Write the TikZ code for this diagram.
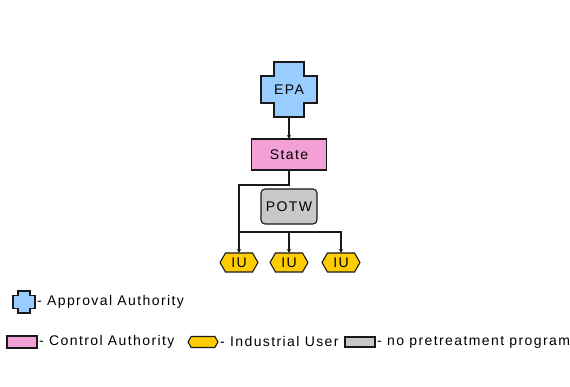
\documentclass[tikz,border=0pt]{standalone}
\usepackage{fontspec}
\setmainfont{Liberation Sans}[LetterSpace=10]
\usepackage{xcolor}
\usepackage{tikz}
\usetikzlibrary{shapes.symbols, arrows.meta, positioning, calc, backgrounds}

\definecolor{epablue}{HTML}{99CCFF}
\definecolor{statepink}{HTML}{F2A0D6}
\definecolor{iugold}{HTML}{FFCC00}
\definecolor{potwgray}{HTML}{C8C8C8}

% plus-shaped outline behind a node: node, half bar width, half bar height
\newcommand{\plusfill}[3]{%
  \begin{pgfonlayer}{background}
    \filldraw[fill=epablue, draw=black!90, line width=1.1pt]
      ($(#1.north)+(-#2,0)$) -- ($(#1.north)+(#2,0)$) |- ($(#1.east)+(0,#3)$)
      -- ($(#1.east)+(0,-#3)$) -| ($(#1.south)+(#2,0)$)
      -- ($(#1.south)+(-#2,0)$) |- ($(#1.west)+(0,-#3)$)
      -- ($(#1.west)+(0,#3)$) -| ($(#1.north)+(-#2,0)$) -- cycle;
  \end{pgfonlayer}}

\begin{document}
\begin{tikzpicture}[x=1pt, y=1pt,
    box/.style={draw=black!90, line width=1.1pt, outer sep=0pt, inner sep=0pt, font=\fontsize{14}{16}\selectfont},
    plusnode/.style={box, draw=none},
    statebox/.style={box, rectangle, fill=statepink},
    potwbox/.style={box, rectangle, rounded corners=4pt, fill=potwgray},
    iubox/.style={box, signal, signal to=east and west, signal pointer angle=120, fill=iugold},
    legtext/.style={font=\fontsize{14}{16}\selectfont, inner sep=1pt},
    flow/.style={-{Stealth[length=4pt, width=4pt]}, line width=1.2pt, draw=black!90}]
    \useasboundingbox (0,0) rectangle (570,387);

    % Agencies
    \node[plusnode, minimum width=56, minimum height=55] (epa) at (289, 297.5) {EPA};
    \plusfill{epa}{15}{13.5}
    \node[statebox, minimum width=75, minimum height=31, below=22pt of epa] (state) {State};
    \node[potwbox, minimum width=56, minimum height=35, below=19pt of state] (potw) {POTW};

    % Industrial users
    \node[iubox, minimum width=38, minimum height=19, below=29pt of potw] (iu2) {IU};
    \node[iubox, minimum width=38, minimum height=19, left=12pt of iu2] (iu1) {IU};
    \node[iubox, minimum width=38, minimum height=19, right=14pt of iu2] (iu3) {IU};

    % Oversight arrows
    \draw[flow] (epa) -- (state);
    \draw[flow] (state.south) -- ++(0,-15) -| (iu1.north);
    \coordinate (split) at ($(potw.south)+(0,-8)$);
    \draw[flow] (iu1.north |- split) -| (iu3.north);
    \draw[flow] (split) -- (iu2.north);

    % Legend
    \node[plusnode, minimum width=22, minimum height=22] (legplus) at (24, 85) {};
    \plusfill{legplus}{6}{6.5}
    \node[legtext, right=1pt of legplus] (legapp) {- Approval Authority};
    \node[statebox, minimum width=30, minimum height=12] (legstate) at (22, 45) {};
    \node[legtext, right=1pt of legstate] (legctl) {- Control Authority};
    \node[iubox, minimum width=30, minimum height=11] (legiu) at (203, 45) {};
    \node[legtext, right=1pt of legiu] (legind) {- Industrial User};
    \node[potwbox, rounded corners=0pt, minimum width=30, minimum height=10] (legpotw) at (360, 45) {};
    \node[legtext, right=1pt of legpotw] (legnone) {- no pretreatment program};
\end{tikzpicture}
\end{document}
